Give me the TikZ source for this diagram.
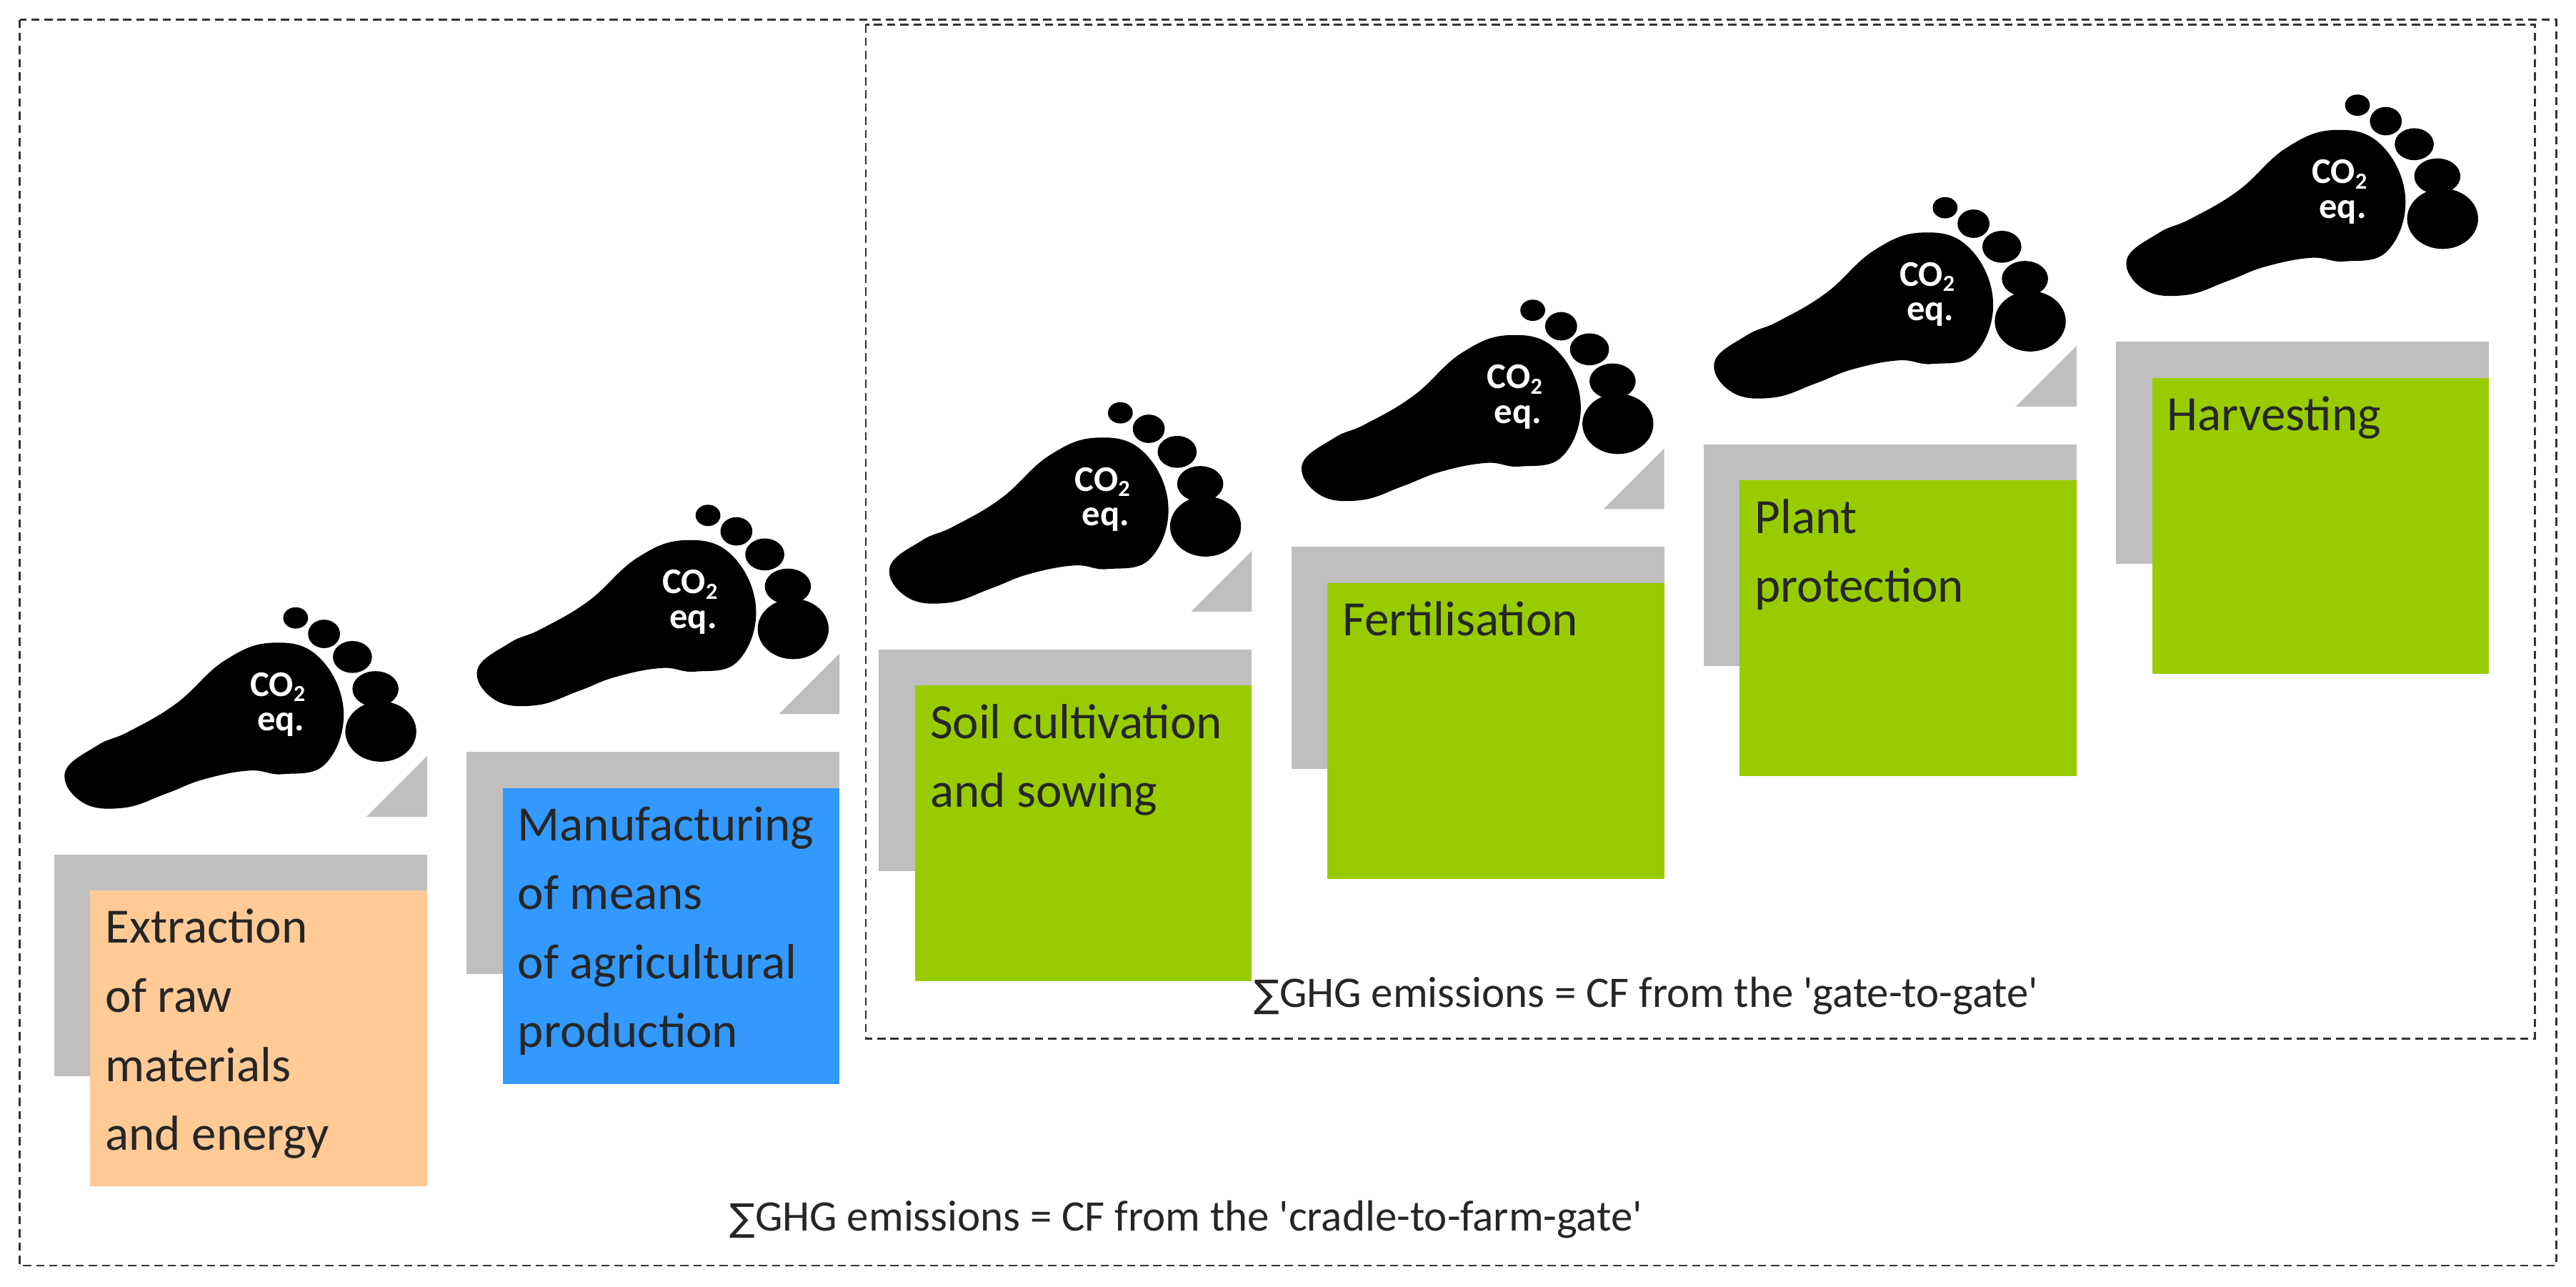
\documentclass[tikz,border=0pt]{standalone}
\usepackage{fontspec}
\setmainfont{Carlito}
\newfontfamily\dvs{DejaVu Sans}
\definecolor{stepgray}{HTML}{BFBFBF}
\definecolor{orng}{HTML}{FFCA96}
\definecolor{blu}{HTML}{3399FF}
\definecolor{grn}{HTML}{99CC00}
\begin{document}
\begin{tikzpicture}[x=1pt,y=-1pt,
  boxtxt/.style={anchor=north west,inner sep=0pt,align=left,font=\fontsize{30}{42}\selectfont,text=black!85},
  co/.style={text=white,font=\bfseries\fontsize{22}{22}\selectfont,inner sep=0pt},
  sumtxt/.style={font=\fontsize{26.5}{32}\selectfont,text=black!85},
  frame/.style={draw=black!80,line width=1.1pt,dash pattern=on 5pt off 3pt}]
\useasboundingbox (0,0) rectangle (1568,783);
\fill[white] (0,0) rectangle (1568,783);
\draw[frame] (12,12) rectangle (1556,770);
\draw[frame] (527,15) rectangle (1543,632);
\newcommand\foot[2]{%
 \begin{scope}[shift={(#1,#2)},scale=1.08]
  \fill[black] plot[smooth cycle,tension=0.7] coordinates{(-118,37)(-100,22)(-82,14)(-55,-2)(-28,-26)(-1,-36)(25,-28)(39,2)(29,32)(5,38)(-14,36)(-40,41)(-61,49)(-85,57)(-108,54)};
  \fill[black] (60,14) ellipse (20 and 17);
  \fill[black] (57,-10) ellipse (13 and 10);
  \fill[black] (44,-28) ellipse (11 and 9);
  \fill[black] (28,-41) ellipse (9 and 8);
  \fill[black] (12,-50) ellipse (7 and 6);
 \end{scope}}
\foreach \i/\col/\h/\tri in {0/orng/180/1,1/blu/180/1,2/grn/180/1,3/grn/180/1,4/grn/180/1,5/grn/180/0}{
  \pgfmathsetmacro\xo{33+251*\i}
  \pgfmathsetmacro\yt{520-62.4*\i}
  \fill[stepgray] (\xo,\yt) rectangle (\xo+227,\yt+22);
  \fill[stepgray] (\xo,\yt) rectangle (\xo+22,\yt+135);
  \fill[\col] (\xo+22,\yt+22) rectangle (\xo+227,\yt+22+\h);
  \ifnum\tri=1 \fill[stepgray] (\xo+190,\yt-23) -- (\xo+227,\yt-23) -- (\xo+227,\yt-60) -- cycle; \fi
  \foot{\xo+134}{\yt-90}
  \node[co] (co\i) at (\xo+136,\yt-102) {CO\raisebox{-0.3ex}{\fontsize{14}{14}\selectfont 2}};
  \node[co] (eq\i) at (\xo+138,\yt-79) {eq.};
  \coordinate (b\i) at (\xo+31,\yt+33);
}
\node[boxtxt] (t0) at (b0) {Extraction\\of raw\\materials\\and energy};
\node[boxtxt] (t1) at (b1) {Manufacturing\\of means\\of agricultural\\production};
\node[boxtxt] (t2) at (b2) {Soil cultivation\\and sowing};
\node[boxtxt] (t3) at (b3) {Fertilisation};
\node[boxtxt] (t4) at (b4) {Plant\\protection};
\node[boxtxt] (t5) at (b5) {Harvesting};
\node[sumtxt] (g1) at (1002,606) {{\dvs\fontsize{23}{30}\selectfont ∑}GHG emissions = CF from the \textquotesingle gate-to-gate\textquotesingle};
\node[sumtxt] (g2) at (722,742) {{\dvs\fontsize{23}{30}\selectfont ∑}GHG emissions = CF from the \textquotesingle cradle-to-farm-gate\textquotesingle};
\end{tikzpicture}
\end{document}
